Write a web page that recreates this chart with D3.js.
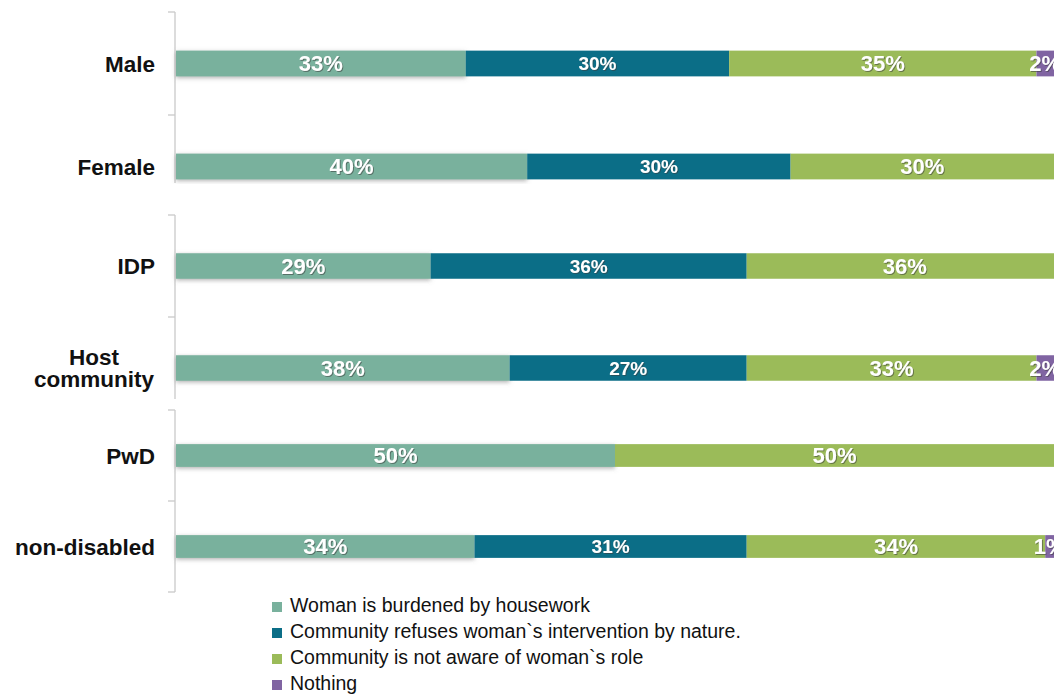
<!DOCTYPE html>
<html>
<head>
<meta charset="utf-8">
<script src="https://cdn.jsdelivr.net/npm/d3@7"></script>
<style>
  html, body { margin: 0; padding: 0; background: #ffffff; }
  svg { display: block; }
</style>
</head>
<body>
<svg id="chart" width="1054" height="698"></svg>
<script>
// Groups shown as three stacked panels
const panels = [
  ["Male", "Female"],
  ["IDP", "Host community"],
  ["PwD", "non-disabled"]
];
const categories = ["Male", "Female", "IDP", "Host community", "PwD", "non-disabled"];

// Share of responses per category (%)
const housework = [33, 40, 29, 38, 50, 34];
const refuses   = [30, 30, 36, 27, 0, 31];
const notAware  = [35, 30, 36, 33, 50, 34];
const nothing   = [2, 0, 0, 2, 0, 1];

const seriesNames = [
  "Woman is burdened by housework",
  "Community refuses woman`s intervention by nature.",
  "Community is not aware of woman`s role",
  "Nothing"
];
const seriesKeys = ["housework", "refuses", "notAware", "nothing"];
const seriesColors = ["#79b19d", "#0b6e87", "#9bbb59", "#8064a2"];

const rows = categories.map((c, i) => ({
  category: c,
  housework: housework[i],
  refuses: refuses[i],
  notAware: notAware[i],
  nothing: nothing[i]
}));

const svg = d3.select("#chart");
const W = 1054, H = 698;

const defs = svg.append("defs");
const barShadow = defs.append("filter").attr("id", "barShadow")
  .attr("x", "-5%").attr("y", "-60%").attr("width", "110%").attr("height", "220%");
barShadow.append("feDropShadow").attr("dx", 0).attr("dy", 1.5)
  .attr("stdDeviation", 2.2).attr("flood-color", "#707070").attr("flood-opacity", 0.55);
const textShadow = defs.append("filter").attr("id", "textShadow")
  .attr("x", "-20%").attr("y", "-30%").attr("width", "140%").attr("height", "160%");
textShadow.append("feDropShadow").attr("dx", 1).attr("dy", 1)
  .attr("stdDeviation", 0.7).attr("flood-color", "#3a3a3a").attr("flood-opacity", 0.55);

svg.append("rect").attr("width", W).attr("height", H).attr("fill", "#ffffff");

const x = d3.scaleLinear().domain([0, 100]).range([176, 1054]);
const stack = d3.stack().keys(seriesKeys);

// Panel geometry: band range, visible axis extent, top of panel background
const panelLayout = [
  { range: [12, 218], axisEnd: 183, bgTop: 0 },
  { range: [215, 419], axisEnd: 399, bgTop: 184 },
  { range: [410, 592], axisEnd: 592, bgTop: 401 }
];

const axisX = 175;
const labelFont = "'Liberation Sans', Arial, Helvetica, sans-serif";

panels.forEach((cats, p) => {
  const L = panelLayout[p];
  const g = svg.append("g");
  const bgBottom = p < panels.length - 1 ? panelLayout[p + 1].bgTop : 600;
  g.append("rect").attr("x", 0).attr("y", L.bgTop).attr("width", W)
    .attr("height", bgBottom - L.bgTop).attr("fill", "#ffffff");

  const y = d3.scaleBand().domain(cats).range(L.range)
    .paddingInner(0.75).paddingOuter(0.375);

  // Category axis: line plus ticks at band boundaries
  const step = y.step();
  const y0 = L.range[0];
  g.append("line").attr("x1", axisX).attr("x2", axisX)
    .attr("y1", y0).attr("y2", L.axisEnd)
    .attr("stroke", "#c9c9c9").attr("stroke-width", 1.3);
  d3.range(cats.length + 1).map(i => y0 + i * step)
    .filter(v => v <= L.axisEnd + 0.5)
    .forEach(v => {
      g.append("line").attr("x1", axisX - 7).attr("x2", axisX)
        .attr("y1", v).attr("y2", v)
        .attr("stroke", "#c9c9c9").attr("stroke-width", 1.3);
    });

  const data = rows.filter(r => cats.includes(r.category));
  const stacked = stack(data);

  stacked.forEach((s, si) => {
    const sg = g.append("g").attr("fill", seriesColors[si]);
    if (si === 0) sg.attr("filter", "url(#barShadow)");
    sg.selectAll("rect").data(s.filter(d => d[1] - d[0] > 0)).join("rect")
      .attr("x", d => x(d[0]))
      .attr("y", d => y(d.data.category))
      .attr("width", d => x(d[1]) - x(d[0]))
      .attr("height", y.bandwidth());
  });

  // Value labels centred in each segment
  stacked.forEach((s, si) => {
    g.append("g").selectAll("text").data(s.filter(d => d[1] - d[0] > 0)).join("text")
      .attr("x", d => (x(d[0]) + x(d[1])) / 2)
      .attr("y", d => y(d.data.category) + y.bandwidth() / 2)
      .attr("dy", "0.36em")
      .attr("text-anchor", "middle")
      .attr("fill", "#ffffff")
      .attr("filter", "url(#textShadow)")
      .style("font-family", labelFont)
      .style("font-weight", "bold")
      .style("font-size", si === 1 ? "19px" : "22px")
      .text(d => (d[1] - d[0]) + "%");
  });

  // Category labels
  cats.forEach(c => {
    const cy = y(c) + y.bandwidth() / 2;
    const words = c === "Host community" ? ["Host", "community"] : [c];
    const t = g.append("text")
      .attr("text-anchor", "middle")
      .attr("fill", "#111111")
      .style("font-family", labelFont)
      .style("font-weight", "bold")
      .style("font-size", "22.5px");
    if (words.length === 1) {
      t.attr("text-anchor", "end").attr("x", 155).attr("y", cy).attr("dy", "0.36em").text(c);
    } else {
      const lh = 22;
      words.forEach((w, i) => {
        t.append("tspan").attr("x", 94)
          .attr("y", cy + (i - (words.length - 1) / 2) * lh)
          .attr("dy", "0.36em").text(w);
      });
    }
  });
});

// Legend
const legend = svg.append("g");
seriesNames.forEach((name, i) => {
  const cy = 605 + i * 26;
  legend.append("rect").attr("x", 272).attr("y", cy - 3).attr("width", 10).attr("height", 10)
    .attr("fill", seriesColors[i]);
  legend.append("text").attr("x", 290).attr("y", cy).attr("dy", "0.36em")
    .attr("fill", "#111111")
    .style("font-family", labelFont)
    .style("font-size", "19.5px")
    .text(name);
});
</script>
</body>
</html>
